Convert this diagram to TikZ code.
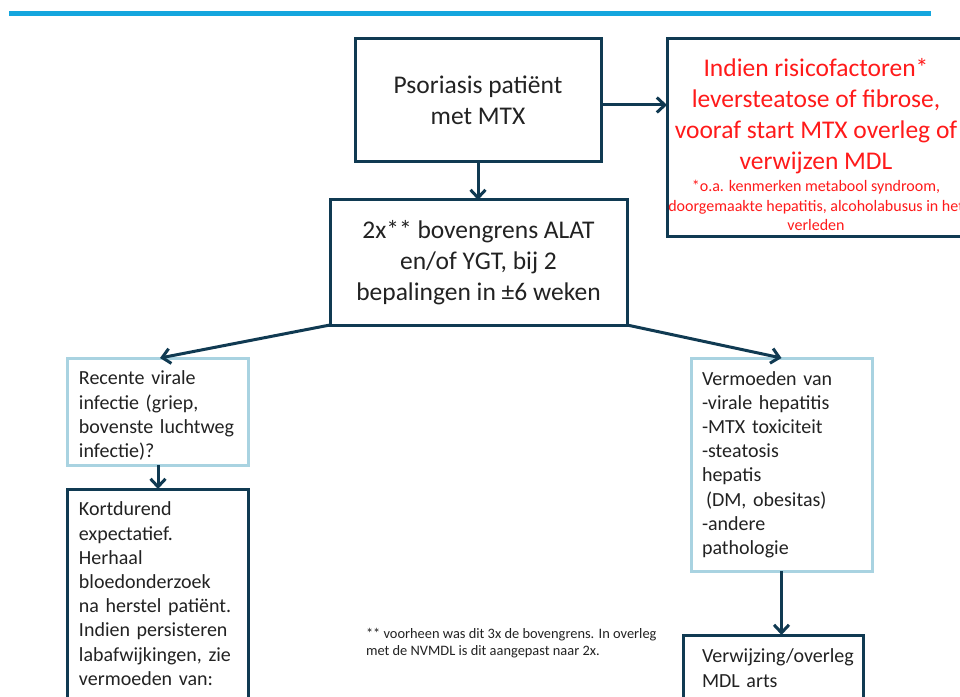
\documentclass[tikz,border=0pt]{standalone}
\usepackage{fontspec}
\setmainfont{Carlito}
\usetikzlibrary{arrows.meta}
\definecolor{dark}{HTML}{103A52}
\definecolor{light}{HTML}{A9D3E1}
\definecolor{topline}{HTML}{14A6DE}
\definecolor{txt}{HTML}{222222}
\definecolor{redt}{HTML}{FF1A1A}
\newcommand\smallred{\fontsize{16bp}{19.5bp}\selectfont}
\begin{document}
\begin{tikzpicture}[x=1bp,y=-1bp,
  every node/.style={inner sep=0pt, outer sep=0pt},
  mainbox/.style={draw=dark, line width=3bp, align=center, text=txt,
    font=\fontsize{25.5bp}{31bp}\selectfont},
  sidebox/.style={line width=3bp, align=left, text=txt, inner xsep=11bp,
    text width=158bp, font=\fontsize{20bp}{24.2bp}\selectfont},
  conn/.style={draw=dark, line width=3bp, -{Straight Barb[length=8bp,width=15bp]}},
]
\useasboundingbox (0,0) rectangle (960,697);
\clip (0,0) rectangle (960,697);
\fill[white] (0,0) rectangle (960,697);
\draw[topline, line width=5bp] (9,14) -- (931,14);

\node[mainbox, minimum width=246bp, minimum height=122bp] (b1) at (478,100)
  {Psoriasis patiënt\\met MTX};
\node[mainbox, minimum width=297bp, minimum height=125bp] (b2) at (478.5,262.5)
  {2x** bovengrens ALAT\\en/of ΥGT, bij 2\\bepalingen in ±6 weken};

\node[draw=dark, line width=3bp, align=center, text=redt,
  font=\fontsize{25.5bp}{31bp}\selectfont,
  minimum width=298bp, minimum height=197bp] (risk) at (816,137.5)
  {\rule{0pt}{32bp}Indien risicofactoren*\\leversteatose of fibrose,\\vooraf start MTX overleg of\\verwijzen MDL\\[-8.4bp]
   \smallred *o.a. kenmerken metabool syndroom,\\[-11.5bp]
   \smallred doorgemaakte hepatitis, alcoholabusus in het\\[-11.5bp]
   \smallred verleden};

\node[sidebox, draw=light, minimum height=107bp] (vir) at (158,411.5)
  {\rule{0pt}{22bp}Recente virale\\infectie (griep,\\bovenste luchtweg\\infectie)?};
\node[sidebox, draw=dark, inner ysep=13bp, anchor=north] (kort) at (158,489)
  {Kortdurend\\expectatief.\\Herhaal\\bloedonderzoek\\na herstel patiënt.\\Indien persisteren\\labafwijkingen, zie\\vermoeden van:\rule[-60bp]{0pt}{0pt}};
\node[sidebox, draw=light, minimum height=213bp, text width=159bp] (verm) at (781.5,464.5)
  {Vermoeden van\\-virale hepatitis\\-MTX toxiciteit\\-steatosis\\hepatis\\\hspace*{4bp}(DM, obesitas)\\-andere\\pathologie};
\node[sidebox, draw=dark, inner ysep=14bp, anchor=north] (verw) at (773,635)
  {\hspace*{8bp}\mbox{Verwijzing/overleg}\\\hspace*{8bp}MDL arts\rule[-60bp]{0pt}{0pt}};

\node[font=\fontsize{14.4bp}{17bp}\selectfont, align=left, anchor=north west, text=txt] (note) at (366,628)
  {** voorheen was dit 3x de bovengrens. In overleg\\met de NVMDL is dit aangepast naar 2x.};

\draw[conn] (b1.south) -- (b1.south |- b2.north);
\draw[conn] ([yshift=-5bp]b1.east) -- ([yshift=-5bp]b1.east -| risk.west);
\draw[conn] (b2.south west) -- ([xshift=2bp]vir.north);
\draw[conn] (b2.south east) -- (verm.north);
\draw[conn] (vir.south) -- (kort.north);
\draw[conn] (verm.south) -- (verm.south |- verw.north);
\end{tikzpicture}
\end{document}
